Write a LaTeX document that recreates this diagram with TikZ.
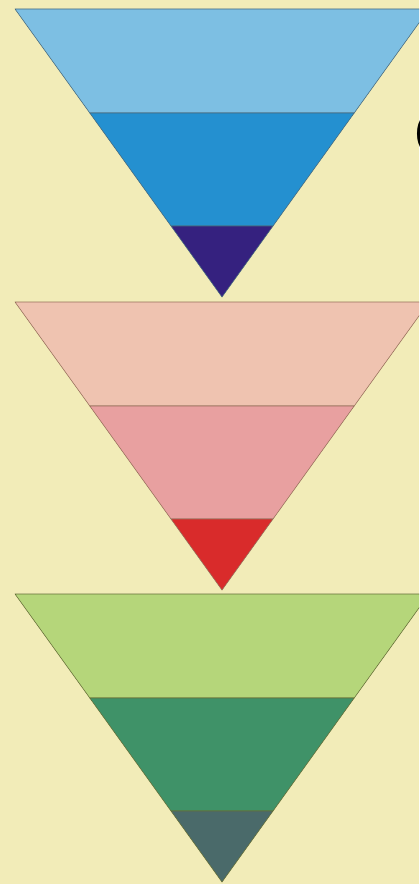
\documentclass[tikz,border=0pt]{standalone}
\usepackage{tikz}
\usetikzlibrary{calc}

\definecolor{paper}{RGB}{242,236,184}
\definecolor{blueA}{RGB}{125,191,227}
\definecolor{blueB}{RGB}{36,144,208}
\definecolor{blueC}{RGB}{53,33,127}
\definecolor{blueEdge}{RGB}{70,105,125}
\definecolor{pinkA}{RGB}{239,195,176}
\definecolor{pinkB}{RGB}{232,160,160}
\definecolor{pinkC}{RGB}{217,43,43}
\definecolor{pinkEdge}{RGB}{150,110,90}
\definecolor{greenA}{RGB}{181,214,122}
\definecolor{greenB}{RGB}{63,146,104}
\definecolor{greenC}{RGB}{74,106,106}
\definecolor{greenEdge}{RGB}{100,110,55}

\begin{document}
\begin{tikzpicture}[
  x=0.05cm, y=-0.05cm,
  band/.style={draw=#1, line width=0.8pt, line join=round},
  label/.style={inner sep=0pt, anchor=west, font=\sffamily\bfseries\fontsize{92}{92}\selectfont}
]
%% Page
\useasboundingbox (0,0) rectangle (419,884);
\fill[paper] (0,0) rectangle (419,884);
\clip (0,0) rectangle (419,884);

%% Blue funnel
\filldraw[band=blueEdge, fill=blueA] (15,9)     -- (429,9)     -- (354.2,113) -- (89.8,113) -- cycle;
\filldraw[band=blueEdge, fill=blueB] (89.8,113) -- (354.2,113) -- (273,226)   -- (171,226)  -- cycle;
\filldraw[band=blueEdge, fill=blueC] (171,226)  -- (273,226)   -- (222,297)   -- cycle;

%% Pink funnel
\filldraw[band=pinkEdge, fill=pinkA] (15,302)     -- (429,302)     -- (354.2,406) -- (89.8,406) -- cycle;
\filldraw[band=pinkEdge, fill=pinkB] (89.8,406)   -- (354.2,406)   -- (273,519)   -- (171,519)  -- cycle;
\filldraw[band=pinkEdge, fill=pinkC] (171,519)    -- (273,519)     -- (222,590)   -- cycle;

%% Green funnel
\filldraw[band=greenEdge, fill=greenA] (15,594)   -- (429,594)   -- (354.2,698) -- (89.8,698) -- cycle;
\filldraw[band=greenEdge, fill=greenB] (89.8,698) -- (354.2,698) -- (273,811)   -- (171,811)  -- cycle;
\filldraw[band=greenEdge, fill=greenC] (171,811)  -- (273,811)   -- (222,882)   -- cycle;

%% Cut-off heading at the right edge
\node[label] at (413.5,134) (head) {C};
\end{tikzpicture}
\end{document}
